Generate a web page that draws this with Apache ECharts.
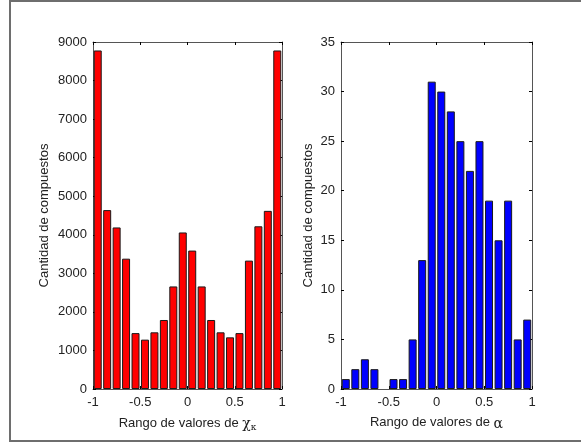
<!DOCTYPE html>
<html>
<head>
<meta charset="utf-8">
<script src="https://cdn.jsdelivr.net/npm/echarts@6/dist/echarts.min.js"></script>
<style>
  html, body { margin: 0; padding: 0; background: #fff; }
  #chart { width: 581px; height: 444px; }
</style>
</head>
<body>
<div id="chart"></div>
<script>
// histogram bin centres (20 bins of 0.1 over -1..1)
const binCenters = [-0.95, -0.85, -0.75, -0.65, -0.55, -0.45, -0.35, -0.25, -0.15, -0.05,
                    0.05, 0.15, 0.25, 0.35, 0.45, 0.55, 0.65, 0.75, 0.85, 0.95];
// counts for chi_kappa (left panel)
const chiCounts = [8780, 4640, 4190, 3380, 1450, 1280, 1470, 1790, 2660, 4060,
                   3590, 2660, 1790, 1470, 1340, 1450, 3330, 4220, 4620, 8780];
// counts for alpha (right panel)
const alphaCounts = [1, 2, 3, 2, 0, 1, 1, 5, 13, 31,
                     30, 28, 25, 22, 25, 19, 15, 19, 5, 7];
const xTicks = [-1, -0.5, 0, 0.5, 1];

const font = 'Liberation Sans, Arial, sans-serif';
const axisColor = '#555';
const textColor = '#222';

// empty bins get no outline, like matlab
function pairs(counts) {
  return binCenters.map((c, i) => counts[i] === 0
    ? { value: [c, 0], itemStyle: { borderWidth: 0 } }
    : [c, counts[i]]);
}

function fmtX(v) {
  return xTicks.indexOf(v) >= 0 ? String(v) : '';
}

// bottom/left axes with labels, top/right mirrored axes with inside ticks only
function xAxes(gridIndex, name) {
  const common = {
    type: 'value', gridIndex: gridIndex, min: -1, max: 1, interval: 0.5,
    splitLine: { show: false },
    axisLine: { onZero: false, lineStyle: { color: axisColor, width: 1 } },
    axisTick: { inside: true, length: 3, lineStyle: { color: '#000' } }
  };
  return [
    Object.assign({}, common, {
      position: 'bottom',
      name: name, nameLocation: 'middle', nameGap: 25,
      nameTextStyle: {
        color: textColor, fontFamily: font, fontSize: 13,
        rich: {
          g: { fontFamily: 'DejaVu Serif', fontSize: 14, color: textColor, padding: [3, 0, 0, 0] },
          s: { fontFamily: 'DejaVu Serif', fontSize: 9, color: textColor, padding: [9, 0, 0, 0] }
        }
      },
      axisLabel: { color: textColor, fontFamily: font, fontSize: 13, margin: 7, formatter: fmtX }
    }),
    Object.assign({}, common, { position: 'top', axisLabel: { show: false } })
  ];
}

function yAxes(gridIndex, max, interval, gap) {
  const common = {
    type: 'value', gridIndex: gridIndex, min: 0, max: max, interval: interval,
    splitLine: { show: false },
    axisLine: { show: true, onZero: false, lineStyle: { color: axisColor, width: 1 } },
    axisTick: { show: true, inside: true, length: 3, lineStyle: { color: '#000' } }
  };
  return [
    Object.assign({}, common, {
      position: 'left',
      name: 'Cantidad de compuestos', nameLocation: 'middle', nameGap: gap,
      nameTextStyle: { color: textColor, fontFamily: font, fontSize: 13 },
      axisLabel: { color: textColor, fontFamily: font, fontSize: 13, margin: 6,
                   formatter: v => String(v) }
    }),
    Object.assign({}, common, { position: 'right', axisLabel: { show: false } })
  ];
}

const chart = echarts.init(document.getElementById('chart'), null, { renderer: 'canvas' });

chart.setOption({
  backgroundColor: '#fff',
  animation: false,
  graphic: [{
    type: 'rect',
    shape: { x: 10, y: 1, width: 600, height: 440 },
    style: { fill: 'none', stroke: '#6e6e6e', lineWidth: 2 },
    silent: true
  }],
  grid: [
    { left: 93, top: 42, width: 189, height: 347 },
    { left: 341, top: 42, width: 191, height: 347 }
  ],
  xAxis: xAxes(0, 'Rango de valores de {g|χ}{s|κ}')
    .concat(xAxes(1, 'Rango de valores de {g|α}')),
  yAxis: yAxes(0, 9000, 1000, 42).concat(yAxes(1, 35, 5, 26)),
  series: [
    {
      type: 'bar', xAxisIndex: 0, yAxisIndex: 0,
      data: pairs(chiCounts), barWidth: 8,
      itemStyle: { color: '#ff0000', borderColor: '#1a1a1a', borderWidth: 1 }
    },
    {
      type: 'bar', xAxisIndex: 2, yAxisIndex: 2,
      data: pairs(alphaCounts), barWidth: 8,
      itemStyle: { color: '#0000ff', borderColor: '#1a1a1a', borderWidth: 1 }
    }
  ]
});
</script>
</body>
</html>
